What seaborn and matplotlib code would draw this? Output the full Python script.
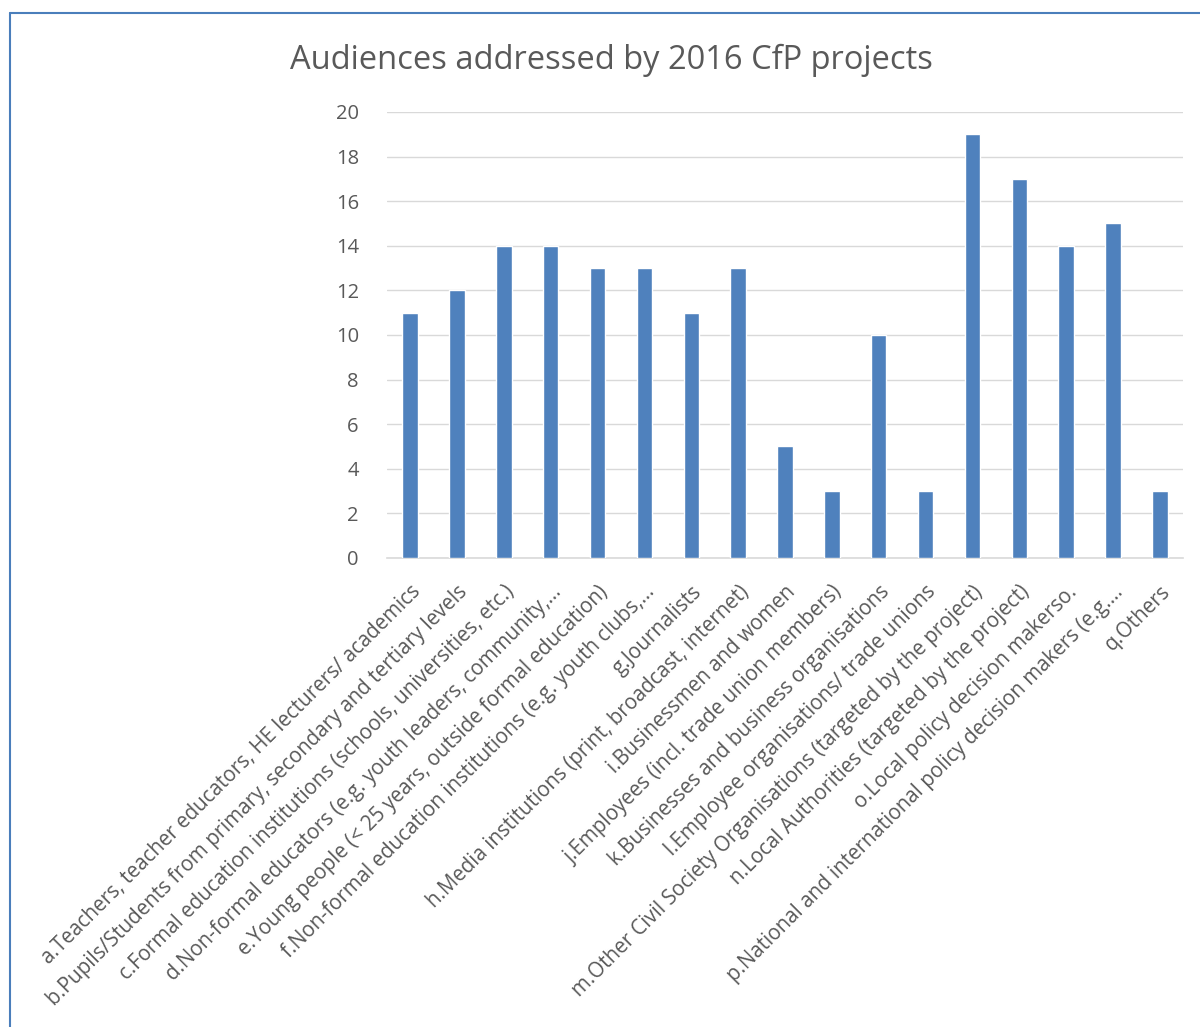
import matplotlib
matplotlib.use("Agg")
import matplotlib.pyplot as plt
from matplotlib.lines import Line2D
import seaborn as sns
import pandas as pd

categories = [
    "a.Teachers, teacher educators, HE lecturers/ academics",
    "b.Pupils/Students from primary, secondary and tertiary levels",
    "c.Formal education institutions (schools, universities, etc.)",
    "d.Non-formal educators (e.g. youth leaders, community,\u2026",
    "e.Young people (< 25 years, outside formal education)",
    "f.Non-formal education institutions (e.g. youth clubs,\u2026",
    "g.Journalists",
    "h.Media institutions (print, broadcast, internet)",
    "i.Businessmen and women",
    "j.Employees (incl. trade union members)",
    "k.Businesses and business organisations",
    "l.Employee organisations/ trade unions",
    "m.Other Civil Society Organisations (targeted by the project)",
    "n.Local Authorities (targeted by the project)",
    "o.Local policy decision makerso.",
    "p.National and international policy decision makers (e.g.\u2026",
    "q.Others",
]
counts = [11, 12, 14, 14, 13, 13, 11, 13, 5, 3, 10, 3, 19, 17, 14, 15, 3]
y_ticks = [0, 2, 4, 6, 8, 10, 12, 14, 16, 18, 20]
title = "Audiences addressed by 2016 CfP projects"

df = pd.DataFrame({"audience": categories, "projects": counts})

sns.set_theme(style="white")
plt.rcParams["font.family"] = ["Open Sans", "DejaVu Sans"]

text_grey = "#595959"
bar_blue = "#4F81BD"

fig = plt.figure(figsize=(12, 10.27), dpi=100)
ax = fig.add_axes([0.3222, 0.4567, 0.6639, 0.4343])

sns.barplot(data=df, x="audience", y="projects", color=bar_blue,
            width=0.33, saturation=1, ax=ax, zorder=3)

ax.set_ylim(0, 20)
ax.set_yticks(y_ticks)
ax.set_yticklabels([str(v) for v in y_ticks], color=text_grey, fontsize=14.5)
ax.yaxis.grid(True, color="#D9D9D9", linewidth=1, zorder=0)
ax.xaxis.grid(False)
ax.set_xlabel("")
ax.set_ylabel("")
for side in ["top", "right", "left"]:
    ax.spines[side].set_visible(False)
ax.spines["bottom"].set_color("#D9D9D9")
ax.spines["bottom"].set_linewidth(1.2)
ax.tick_params(axis="y", length=0, pad=20)
ax.tick_params(axis="x", length=0, pad=17)

ax.set_xticks(range(len(categories)))
ax.set_xticklabels(categories, rotation=45, ha="right", va="top",
                   rotation_mode="anchor", color=text_grey, fontsize=14.8)

fig.text(611 / 1200, 1 - 60 / 1027, title, ha="center", va="center",
         fontsize=23.5, color=text_grey)

# chart frame along the left and top edges
fig.add_artist(Line2D([10 / 1200, 10 / 1200], [0, 1 - 13 / 1027],
                      transform=fig.transFigure, color="#4A7EBB", linewidth=1.5))
fig.add_artist(Line2D([10 / 1200, 1], [1 - 13 / 1027, 1 - 13 / 1027],
                      transform=fig.transFigure, color="#4A7EBB", linewidth=1.5))

fig.savefig("out.png", dpi=100, facecolor="white")
